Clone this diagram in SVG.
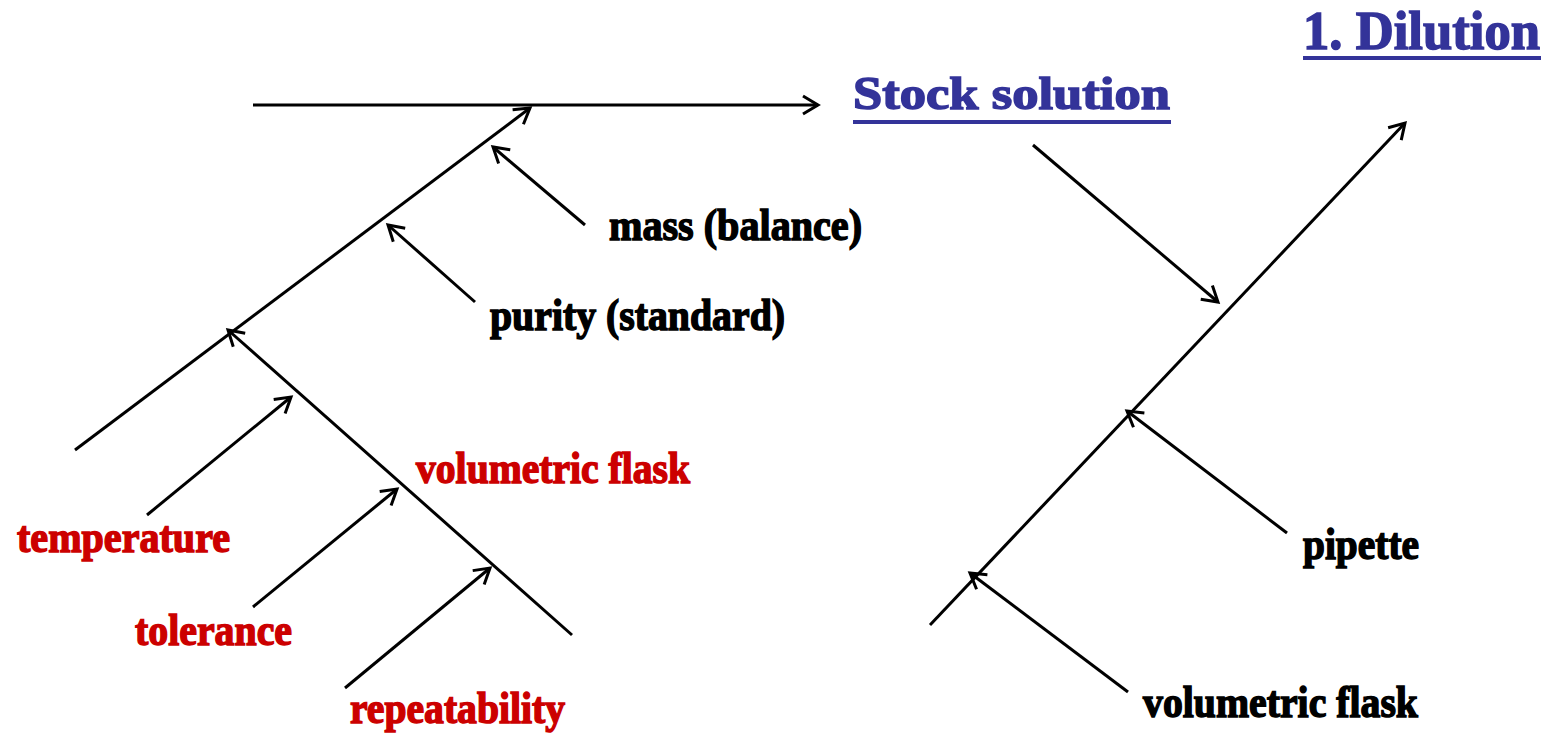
<svg xmlns="http://www.w3.org/2000/svg" width="1545" height="745" viewBox="0 0 1545 745">
<style>
.ln{stroke:#000;stroke-width:3;fill:none;marker-end:url(#ah)}
.t{font-family:"Liberation Serif","Times New Roman",serif;font-weight:bold;font-size:44px;stroke-width:1.5}
.k{fill:#000;stroke:#000}
.r{fill:#cc0000;stroke:#cc0000}
.b{fill:#333399;stroke:#333399;stroke-width:1.5}
.h1{font-size:54px}
.h2{font-size:46px}
</style>
<defs>
<marker id="ah" markerUnits="userSpaceOnUse" markerWidth="30" markerHeight="30" viewBox="-20 -15 30 30" refX="0" refY="0" orient="auto">
<path d="M-15,-9 L0,0 L-15,9" fill="none" stroke="#000" stroke-width="3"/>
</marker>
</defs>
<rect width="1545" height="745" fill="#fff"/>
<g id="connectors">
<line class="ln" x1="253" y1="105" x2="818" y2="105"/>
<line class="ln" x1="75" y1="450" x2="530" y2="108"/>
<line class="ln" x1="585" y1="225" x2="493" y2="147"/>
<line class="ln" x1="475" y1="302" x2="388" y2="225"/>
<line class="ln" x1="572" y1="635" x2="228" y2="330"/>
<line class="ln" x1="147" y1="515" x2="291" y2="397"/>
<line class="ln" x1="253" y1="607" x2="397" y2="489"/>
<line class="ln" x1="345" y1="688" x2="490" y2="568"/>
<line class="ln" x1="930" y1="625" x2="1405" y2="123"/>
<line class="ln" x1="1033" y1="145" x2="1218" y2="302"/>
<line class="ln" x1="1287" y1="533" x2="1127" y2="411"/>
<line class="ln" x1="1128" y1="692" x2="970" y2="573"/>
</g>
<g id="title">
<text class="t b h1" x="1303" y="49" textLength="237" lengthAdjust="spacingAndGlyphs">1. Dilution</text>
<rect x="1303" y="56" width="238" height="4" fill="#333399"/>
</g>
<g id="stock">
<text class="t b h2" x="853" y="109" textLength="317" lengthAdjust="spacingAndGlyphs">Stock solution</text>
<rect x="853" y="120" width="318" height="4" fill="#333399"/>
</g>
<g id="mass"><text class="t k" x="609" y="240" textLength="253" lengthAdjust="spacingAndGlyphs">mass (balance)</text></g>
<g id="purity"><text class="t k" x="490" y="330" textLength="295" lengthAdjust="spacingAndGlyphs">purity (standard)</text></g>
<g id="volflask1"><text class="t r" x="416" y="483" textLength="274" lengthAdjust="spacingAndGlyphs">volumetric flask</text></g>
<g id="temperature"><text class="t r" x="17" y="552" textLength="213" lengthAdjust="spacingAndGlyphs">temperature</text></g>
<g id="tolerance"><text class="t r" x="135" y="645" textLength="157" lengthAdjust="spacingAndGlyphs">tolerance</text></g>
<g id="repeatability"><text class="t r" x="350" y="723" textLength="215" lengthAdjust="spacingAndGlyphs">repeatability</text></g>
<g id="pipette"><text class="t k" x="1303" y="559" textLength="116" lengthAdjust="spacingAndGlyphs">pipette</text></g>
<g id="volflask2"><text class="t k" x="1143" y="717" textLength="275" lengthAdjust="spacingAndGlyphs">volumetric flask</text></g>
</svg>
